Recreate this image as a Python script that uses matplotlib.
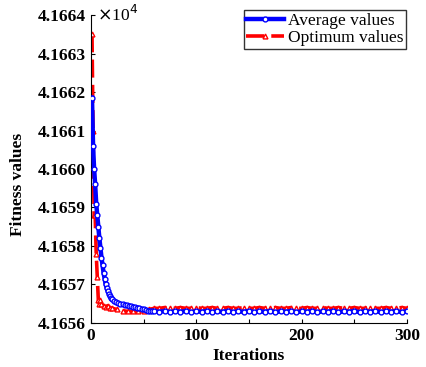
import matplotlib.pyplot as plt
from matplotlib.ticker import FuncFormatter, MultipleLocator

plt.rcParams['font.family'] = ['Liberation Serif', 'DejaVu Serif']

# Average fitness per iteration
avg_iter = [1, 2, 3, 4, 5, 6, 7, 8, 9, 10, 11, 12, 13, 14, 15, 16, 17, 18, 19, 20,
            22, 24, 26, 28, 30, 32, 34, 36, 38, 40, 42, 44, 46, 48, 50, 52, 54, 56, 58, 60,
            65, 70, 75, 80, 85, 90, 95, 100, 105, 110, 115, 120, 125, 130, 135, 140,
            145, 150, 155, 160, 165, 170, 175, 180, 185, 190, 195, 200, 205, 210, 215,
            220, 225, 230, 235, 240, 245, 250, 255, 260, 265, 270, 275, 280, 285, 290,
            295, 300]
avg_val = [41661.85, 41660.6, 41660.0, 41659.6, 41659.1, 41658.8, 41658.5, 41658.2,
           41657.95, 41657.7, 41657.5, 41657.3, 41657.15, 41657.0, 41656.9, 41656.82,
           41656.75, 41656.7, 41656.66, 41656.62,
           41656.58, 41656.55, 41656.52, 41656.5, 41656.48, 41656.47, 41656.46, 41656.45,
           41656.44, 41656.42, 41656.41, 41656.4, 41656.39, 41656.37, 41656.35, 41656.33,
           41656.32, 41656.31, 41656.3, 41656.3,
           41656.29, 41656.31, 41656.28, 41656.3, 41656.29, 41656.31, 41656.28, 41656.3,
           41656.29, 41656.31, 41656.28, 41656.3, 41656.29, 41656.31, 41656.28, 41656.3,
           41656.29, 41656.31, 41656.28, 41656.3, 41656.29, 41656.31, 41656.28, 41656.3,
           41656.29, 41656.31, 41656.28, 41656.3, 41656.29, 41656.31, 41656.28, 41656.3,
           41656.29, 41656.31, 41656.28, 41656.3, 41656.29, 41656.31, 41656.28, 41656.3,
           41656.29, 41656.31, 41656.28, 41656.3, 41656.29, 41656.31, 41656.28, 41656.3]

# Optimum fitness per iteration
opt_iter = [1, 2, 3, 4, 5, 6, 7, 8, 9, 10, 12, 14, 16, 18, 20, 25, 30, 35, 40, 45, 50,
            55, 60, 65, 70, 75, 80, 85, 90, 95, 100, 105, 110, 115, 120, 125, 130, 135,
            140, 145, 150, 155, 160, 165, 170, 175, 180, 185, 190, 195, 200, 205, 210,
            215, 220, 225, 230, 235, 240, 245, 250, 255, 260, 265, 270, 275, 280, 285,
            290, 295, 300]
opt_val = [41663.5, 41661.0, 41658.8, 41658.8, 41657.8, 41657.2, 41656.6, 41656.5,
           41656.6, 41656.5, 41656.45, 41656.42, 41656.45, 41656.4, 41656.38, 41656.35,
           41656.32, 41656.3, 41656.3, 41656.3, 41656.3, 41656.35, 41656.38,
           41656.38, 41656.4, 41656.38, 41656.38, 41656.4, 41656.38, 41656.38, 41656.4,
           41656.38, 41656.38, 41656.4, 41656.38, 41656.38, 41656.4, 41656.38, 41656.38,
           41656.4, 41656.38, 41656.38, 41656.4, 41656.38, 41656.38, 41656.4, 41656.38,
           41656.38, 41656.4, 41656.38, 41656.38, 41656.4, 41656.38, 41656.38, 41656.4,
           41656.38, 41656.38, 41656.4, 41656.38, 41656.38, 41656.4, 41656.38, 41656.38,
           41656.4, 41656.38, 41656.38, 41656.4, 41656.38, 41656.38, 41656.4, 41656.38]

fig = plt.figure(figsize=(4.27, 3.67), dpi=100)
ax = fig.add_axes([0.213, 0.12, 0.74, 0.839])

ax.plot(opt_iter, opt_val, '--', color='red', linewidth=2.6, dashes=(5, 2),
        marker='^', markersize=3.5, markerfacecolor='white', markeredgecolor='red',
        label='Optimum values', zorder=2)
ax.plot(avg_iter, avg_val, '-', color='blue', linewidth=3.2,
        marker='o', markersize=3.5, markerfacecolor='white', markeredgecolor='blue',
        label='Average values', zorder=3)

ax.set_xlim(0, 300)
ax.set_ylim(41656, 41664)
ax.xaxis.set_major_locator(MultipleLocator(50))
ax.xaxis.set_major_formatter(FuncFormatter(lambda v, p: '%d' % v if v % 100 == 0 else ''))
ax.yaxis.set_major_locator(MultipleLocator(1))
ax.yaxis.set_major_formatter(FuncFormatter(lambda v, p: '%.4f' % (v / 1e4)))
ax.tick_params(direction='in', length=3, labelsize=12.5)
for lab in ax.get_xticklabels() + ax.get_yticklabels():
    lab.set_fontweight('bold')

ax.spines['top'].set_visible(False)
ax.spines['right'].set_visible(False)

ax.text(0.02, 1.0, r'$\times$10$^4$', transform=ax.transAxes, fontsize=12.5,
        va='center', ha='left')

ax.set_xlabel('Iterations', fontsize=12.5, fontweight='bold', labelpad=3)
ax.set_ylabel('Fitness values', fontsize=12.5, fontweight='bold')
ax.yaxis.set_label_coords(-0.205, 0.45)

h, l = ax.get_legend_handles_labels()
leg = ax.legend(h[::-1], l[::-1], loc='upper right', fontsize=12.5, frameon=True,
                fancybox=False, edgecolor='black', handlelength=2.2,
                borderpad=0.15, labelspacing=0.05, handletextpad=0.2,
                borderaxespad=0, bbox_to_anchor=(0.997, 1.016))
leg.get_frame().set_linewidth(1.0)

plt.savefig('out.png', dpi=100)
